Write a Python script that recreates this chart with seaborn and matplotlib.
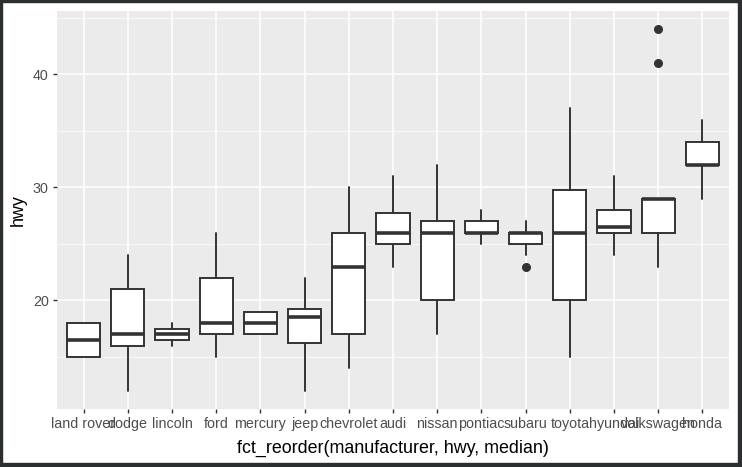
import matplotlib
matplotlib.use("Agg")
import matplotlib.pyplot as plt
import seaborn as sns
from matplotlib.patches import Rectangle


# -----------------------------
# DATA (box statistics)
# -----------------------------
manufacturers = [
    "land rover", "dodge", "lincoln", "ford", "mercury", "jeep", "chevrolet",
    "audi", "nissan", "pontiac", "subaru", "toyota", "hyundai", "volkswagen",
    "honda",
]
whisker_low = [15, 12, 16, 15, 17, 12, 14, 23, 17, 25, 24, 15, 24, 23, 29]
q1 = [15, 16, 16.5, 17, 17, 16.25, 17, 25, 20, 26, 25, 20, 26, 26, 32]
median = [16.5, 17, 17, 18, 18, 18.5, 23, 26, 26, 26, 26, 26, 26.5, 29, 32]
q3 = [18, 21, 17.5, 22, 19, 19.25, 26, 27.75, 27, 27, 26, 29.75, 28, 29, 34]
whisker_high = [18, 24, 18, 26, 19, 22, 30, 31, 32, 28, 27, 37, 31, 29, 36]
outliers = {
    "subaru": [23],
    "volkswagen": [41, 44],
}


# -----------------------------
# CONFIG
# -----------------------------
sns.set_theme(style="darkgrid", rc={
    "axes.facecolor": "#EBEBEB",
    "grid.color": "white",
    "axes.edgecolor": "#EBEBEB",
})
plt.rcParams["font.family"] = ["Liberation Sans", "DejaVu Sans"]

LINE = "#333333"
W, H = 742, 467


def frame_bar(fig, x, y, w, h):
    # pixel box -> figure fraction, y measured from the top
    fig.patches.append(Rectangle((x / W, 1 - (y + h) / H), w / W, h / H,
                                 transform=fig.transFigure, color="#2B2F2F",
                                 zorder=10))


def main() -> None:
    fig = plt.figure(figsize=(W / 100, H / 100), dpi=100)
    ax = fig.add_axes([57 / W, 1 - 409 / H, 672 / W, 398 / H])

    stats = []
    for i, name in enumerate(manufacturers):
        stats.append({
            "label": name,
            "whislo": whisker_low[i],
            "q1": q1[i],
            "med": median[i],
            "q3": q3[i],
            "whishi": whisker_high[i],
            "fliers": outliers.get(name, []),
        })

    positions = list(range(1, len(manufacturers) + 1))
    ax.bxp(
        stats,
        positions=positions,
        widths=0.75,
        patch_artist=True,
        showcaps=False,
        boxprops=dict(facecolor="white", edgecolor=LINE, linewidth=1.4),
        medianprops=dict(color=LINE, linewidth=2.6, solid_capstyle="butt"),
        whiskerprops=dict(color=LINE, linewidth=1.4),
        flierprops=dict(marker="o", markerfacecolor=LINE, markeredgecolor=LINE,
                        markersize=5.5),
        zorder=3,
    )

    ax.set_xlim(0.4, len(manufacturers) + 0.6)
    ax.set_ylim(10.4, 45.6)
    ax.set_xticks(positions)
    ax.set_xticklabels(manufacturers)
    ax.set_yticks([20, 30, 40])
    ax.set_yticks([15, 25, 35, 45], minor=True)

    ax.grid(True, which="major", color="white", linewidth=1.1)
    ax.grid(True, which="minor", axis="y", color="white", linewidth=0.55)
    ax.set_axisbelow(True)
    for spine in ax.spines.values():
        spine.set_visible(False)

    ax.tick_params(axis="both", which="major", length=3, width=1.0,
                   color=LINE, labelcolor="#4D4D4D", labelsize=10.3, pad=3,
                   bottom=True, left=True)
    ax.tick_params(axis="both", which="minor", length=0)

    ax.set_xlabel("fct_reorder(manufacturer, hwy, median)", fontsize=12.9,
                  color="black", labelpad=6)
    ax.set_ylabel("hwy", fontsize=12.9, color="black", labelpad=4)

    # dark frame around the whole image (thicker on right and bottom)
    frame_bar(fig, 0, 0, W, 2)
    frame_bar(fig, 0, 0, 2, H)
    frame_bar(fig, W - 4, 0, 4, H)
    frame_bar(fig, 0, H - 4, W, 4)

    fig.savefig("out.png", dpi=100, facecolor="white")
    plt.close(fig)


if __name__ == "__main__":
    main()
